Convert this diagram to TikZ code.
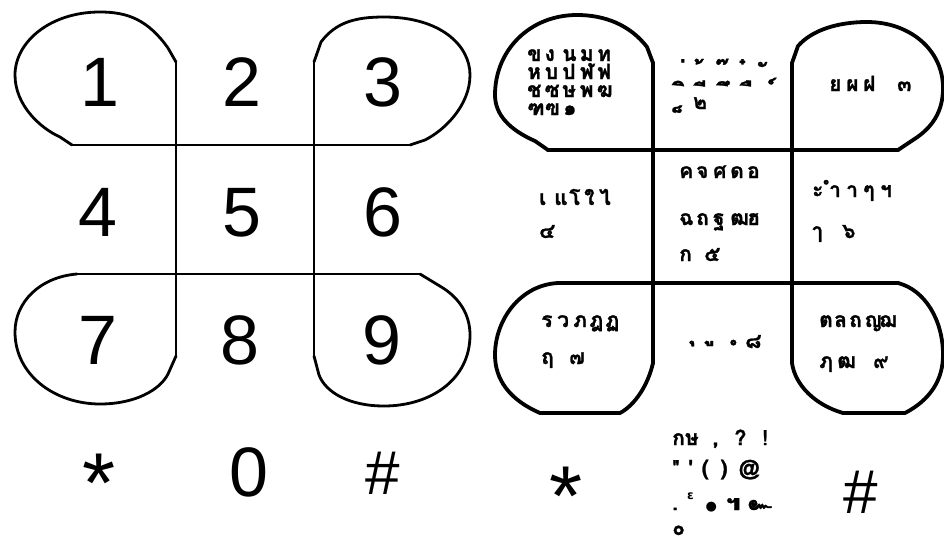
\documentclass[tikz,border=0pt]{standalone}
\usepackage{fontspec}
\setmainfont{Liberation Sans}
\newfontfamily\thaifont[Script=Thai,BoldFeatures={FakeBold=1.2}]{Loma}
\newfontfamily\dejavu{DejaVu Sans}
\newlength\pitch
\makeatletter
\def\spaced#1{\spaced@i#1\relax}
\def\spaced@i#1{\ifx#1\relax\else\makebox[\pitch][l]{#1}\expandafter\spaced@i\fi}
\makeatother
\newcommand\mkbox[1]{\makebox[12pt][r]{#1}}
\newcommand\lowbox[1]{\raisebox{0pt}[12pt][2pt]{#1}}
\begin{document}
\begin{tikzpicture}[x=1pt,y=-1pt,
  outl/.style={line width=2.8pt,line join=round,line cap=round},
  routl/.style={line width=3.8pt,line join=round,line cap=round},
  dig/.style={font=\fontsize{70}{70}\selectfont,anchor=base,inner sep=0pt},
  star/.style={font=\fontsize{85}{85}\selectfont,anchor=north,inner sep=0pt},
  th/.style={font=\thaifont\bfseries\fontsize{21}{21}\selectfont,anchor=base west,inner sep=0pt},
  mk/.style={font=\thaifont\bfseries\fontsize{25}{25}\selectfont,anchor=center,inner sep=0pt}]
\fill[white] (0,0) rectangle (944,543);
\useasboundingbox (0,0) rectangle (944,543);

% ---------------- left keypad outlines ----------------
\coordinate (v1t) at (176,62); \coordinate (v1b) at (176,356);
\coordinate (v2t) at (314,62); \coordinate (v2b) at (314,356);
\coordinate (h1l) at (72,145);  \coordinate (h1r) at (410,145);
\coordinate (h2l) at (77,274);  \coordinate (h2r) at (420,274);
\draw[outl] (v1t) -- (v1b);
\draw[outl] (v2t) -- (v2b);
\draw[outl] (h1l) -- (h1r);
\draw[outl] (h2l) -- (h2r);
% key 1
\draw[outl] (v1t) -- (168,48) .. controls (148,20) and (128,12) .. (100,12)
  .. controls (50,12) and (15,42) .. (15,75) .. controls (15,105) and (40,128) .. (60,137) -- (h1l);
% key 3
\draw[outl] (v2t) -- (321,42) .. controls (336,22) and (356,17) .. (384,17)
  .. controls (440,17) and (470,45) .. (470,75) .. controls (470,105) and (445,130) .. (425,140) -- (h1r);
% key 7
\draw[outl] (h2l) .. controls (40,277) and (15,302) .. (15,332)
  .. controls (15,375) and (55,404) .. (100,404) .. controls (135,404) and (160,390) .. (168,374) -- (v1b);
% key 9
\draw[outl] (h2r) -- (443,288) .. controls (460,299) and (470,315) .. (470,335)
  .. controls (470,380) and (430,406) .. (384,406) .. controls (350,406) and (326,393) .. (319,375) -- (v2b);

% ---------------- left keypad digits ----------------
\node[dig] (d1) at (100,106) {1};
\node[dig] (d2) at (242,106) {2};
\node[dig] (d3) at (383,106) {3};
\node[dig] (d4) at (98,236) {4};
\node[dig] (d5) at (242,236) {5};
\node[dig] (d6) at (383,236) {6};
\node[dig] (d7) at (98,364) {7};
\node[dig] (d8) at (240,364) {8};
\node[dig] (d9) at (382,364) {9};
\node[star] (dstar) at (99,454) {*};
\node[dig] (d0) at (249,496) {0};
\node[dig,font=\fontsize{62}{62}\selectfont] (dhash) at (383,494) {\#};

% ---------------- right keypad outlines ----------------
\coordinate (v3t) at (653,63); \coordinate (v3b) at (653,363);
\coordinate (v4t) at (792,63); \coordinate (v4b) at (792,363);
\coordinate (h3l) at (548,150); \coordinate (h3r) at (898,150);
\coordinate (h4l) at (558,283); \coordinate (h4r) at (898,283);
\draw[routl] (v3t) -- (v3b);
\draw[routl] (v4t) -- (v4b);
\draw[routl] (h3l) -- (h3r);
\draw[routl] (h4l) -- (h4r);
\draw[routl] (v3t) -- (647,47) .. controls (630,25) and (605,15) .. (577,15)
  .. controls (530,15) and (495,50) .. (495,95) .. controls (495,115) and (510,130) .. (535,141) -- (h3l);
\draw[routl] (v4t) -- (798,46) .. controls (812,30) and (838,22) .. (867,22)
  .. controls (910,22) and (943,50) .. (943,88) .. controls (943,112) and (932,128) .. (913,140) -- (h3r);
\draw[routl] (h4l) .. controls (520,285) and (495,320) .. (495,355)
  .. controls (495,380) and (510,400) .. (540,413) -- (620,413) .. controls (635,405) and (648,385) .. (v3b);
\draw[routl] (h4r) .. controls (925,290) and (943,320) .. (943,355)
  .. controls (943,380) and (930,400) .. (905,413) -- (843,413) .. controls (815,405) and (795,385) .. (v4b);

% ---------------- right keypad texts ----------------
% key 1
\node[th] (k1a) at (527,61) {\lowbox{\setlength\pitch{17.5pt}\spaced{ขงนมท}}};
\node[th] (k1b) at (527,79) {\lowbox{\setlength\pitch{17.5pt}\spaced{หบปฬฟ}}};
\node[th] (k1c) at (527,97) {\lowbox{\setlength\pitch{17.5pt}\spaced{ชซษพฆ}}};
\node[th] (k1d) at (527,115) {\lowbox{\setlength\pitch{18pt}\spaced{ฑฃ๑}}};
% key 2 (marks)
\node[mk] (k2a1) at (680,72) {\mkbox{่}};
\node[mk] (k2a2) at (697,72) {\mkbox{้}};
\node[mk] (k2a3) at (721,72) {\mkbox{๊}};
\node[mk] (k2a4) at (741,72) {\mkbox{๋}};
\node[mk] (k2a5) at (761,72) {\mkbox{ั}};
\node[mk] (k2b1) at (680,91) {\mkbox{ิ}};
\node[mk] (k2b2) at (701,91) {\mkbox{ี}};
\node[mk] (k2b3) at (724,91) {\mkbox{ึ}};
\node[mk] (k2b4) at (747,91) {\mkbox{ื}};
\node[mk] (k2b5) at (770,91) {\mkbox{์}};
\node[mk] (k2c1) at (679,117) {\mkbox{็}};
\node[th] (k2c2) at (693,109) {๒};
% key 3
\node[th] (k3a) at (829,91) {\setlength\pitch{17pt}\spaced{ยผฝ~๓}};
% key 4
\node[th] (k4a) at (539,205) {\setlength\pitch{15pt}\spaced{เแโใไ}};
\node[th] (k4b) at (539,238) {๔};
% key 5
\node[th] (k5a) at (679,178) {\setlength\pitch{17pt}\spaced{คจศดอ}};
\node[th] (k5b) at (679,225) {\setlength\pitch{17pt}\spaced{ฉถฐฒฮ}};
\node[th] (k5c) at (679,261) {\setlength\pitch{25pt}\spaced{ก๕}};
% key 6
\node[th] (k6a) at (812,197) {\setlength\pitch{17pt}\spaced{ะำาๆฯ}};
\node[th] (k6b) at (812,238) {\setlength\pitch{30pt}\spaced{ๅ๖}};
% key 7
\node[th] (k7a) at (541,327) {\setlength\pitch{16pt}\spaced{รวภฎฏ}};
\node[th] (k7b) at (541,364) {\setlength\pitch{28pt}\spaced{ฤ๗}};
% key 8
\node[mk] (k8a) at (690,343) {\mkbox{ุ}};
\node[mk] (k8b) at (709,343) {\mkbox{ู}};
\node[mk] (k8c) at (731,350) {\mkbox{ํ}};
\node[th] (k8d) at (745,348) {๘};
% key 9
\node[th] (k9a) at (819,327) {\setlength\pitch{15pt}\spaced{ตลถญฌ}};
\node[th] (k9b) at (819,368) {\setlength\pitch{18pt}\spaced{ฦฒ~๙}};
% key 0
\node[th] (k0a) at (672,445) {กษ\hspace{14pt},\hspace{16pt}?\hspace{16pt}!};
\node[th] (k0b) at (672,475) {"\hspace{9pt}'\hspace{9pt}(\hspace{12pt})\hspace{11pt}@};
\node[th] (k0c) at (672,510) {.\hspace{9pt}\raisebox{11pt}{\dejavu\fontsize{12}{12}\selectfont ε}\hspace{12pt}{\dejavu\fontsize{13}{13}\selectfont ●}\hspace{9pt}๚\hspace{7pt}๛};
\node[th] (k0d) at (672,535) {๐};
% star and hash
\node[star] (rstar) at (566,467) {*};
\node[dig,font=\fontsize{62}{62}\selectfont] (rhash) at (861,513) {\#};
\end{tikzpicture}
\end{document}
